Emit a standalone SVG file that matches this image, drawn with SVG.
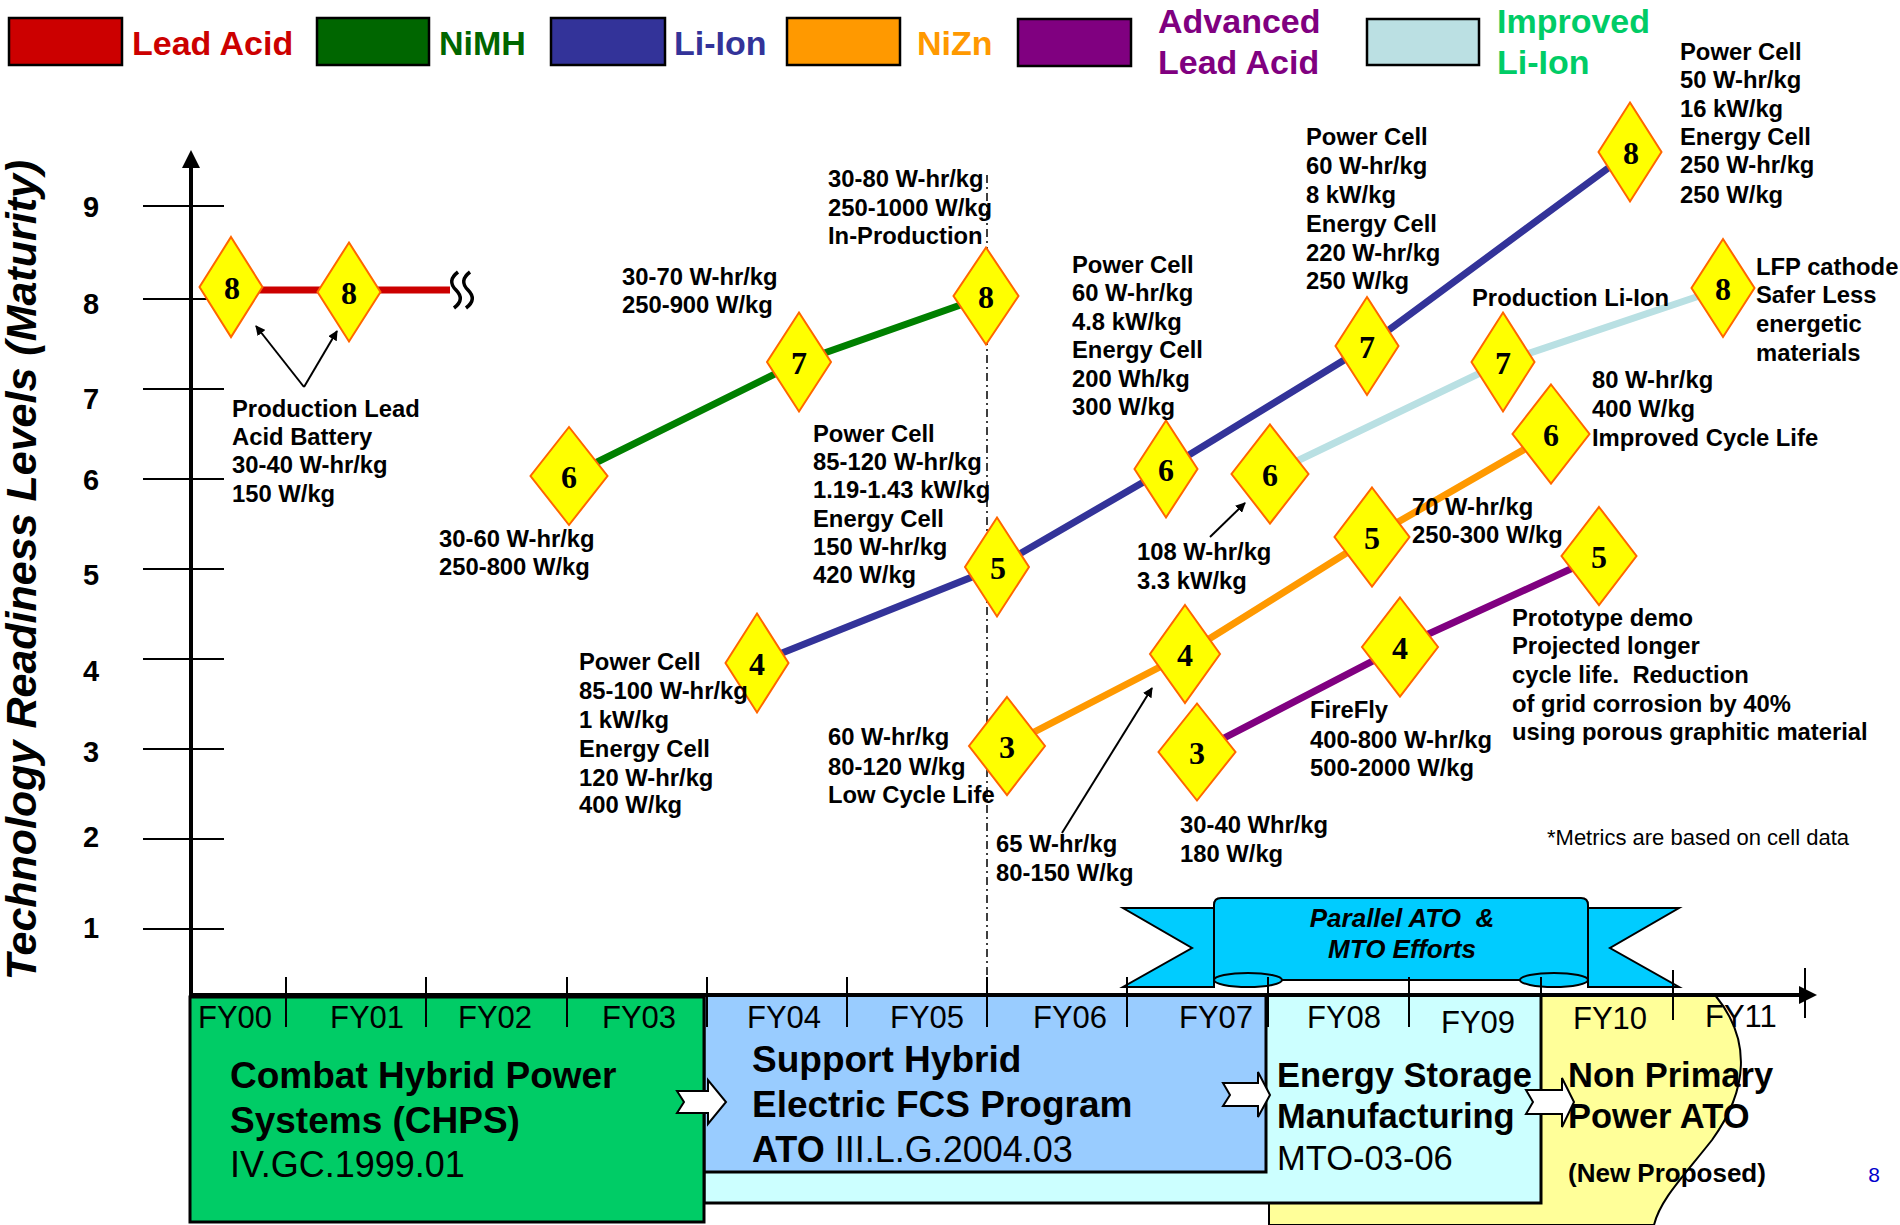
<svg xmlns="http://www.w3.org/2000/svg" width="1900" height="1225" viewBox="0 0 1900 1225">
<style>
text{font-family:"Liberation Sans",Arial,sans-serif}
.lbl{font-weight:bold;font-size:23.8px;fill:#000}
.num{font-family:"Liberation Serif","Times New Roman",serif;font-weight:bold;font-size:32px;text-anchor:middle;fill:#000}
.dia{fill:#ffff00;stroke:#ff6600;stroke-width:2}
.leg{font-weight:bold;font-size:34px}
.sw{stroke:#000;stroke-width:2.5}
.ax{stroke:#000;stroke-width:4;fill:none}
.tk{stroke:#000;stroke-width:2;fill:none}
.fy{font-size:31px;fill:#000}
.big{font-weight:bold;font-size:37px;fill:#000}
.big2{font-weight:bold;font-size:34.5px;fill:#000}
.reg{font-size:36px;fill:#000}
.reg2{font-size:34.5px;fill:#000}
.box{stroke:#000;stroke-width:3}
.barrow{fill:#fff;stroke:#000;stroke-width:2}
.ln{fill:none;stroke-width:7}
.thin{stroke:#000;stroke-width:2;fill:none;marker-end:url(#ah)}
</style>
<defs>
<marker id="ah" markerWidth="10" markerHeight="10" refX="9" refY="5" orient="auto" markerUnits="userSpaceOnUse" viewBox="0 0 10 10">
<path d="M0,0 L10,5 L0,10 Z" fill="#000"/>
</marker>
</defs>
<rect width="1900" height="1225" fill="#fff"/>

<!-- Legend -->
<g id="legend">
<rect class="sw" x="9" y="18" width="113" height="47" fill="#cc0000"/>
<text class="leg" x="132" y="55" fill="#cc0000">Lead Acid</text>
<rect class="sw" x="317" y="18" width="112" height="47" fill="#006600"/>
<text class="leg" x="439" y="55" fill="#006600">NiMH</text>
<rect class="sw" x="551" y="18" width="114" height="47" fill="#333399"/>
<text class="leg" x="674" y="55" fill="#333399">Li-Ion</text>
<rect class="sw" x="787" y="18" width="113" height="47" fill="#ff9900"/>
<text class="leg" x="917" y="55" fill="#ff9900">NiZn</text>
<rect class="sw" x="1018" y="19" width="113" height="47" fill="#800080"/>
<text class="leg" x="1158" y="33" fill="#800080">Advanced</text>
<text class="leg" x="1158" y="74" fill="#800080">Lead Acid</text>
<rect class="sw" x="1367" y="19" width="112" height="46" fill="#bbe0e3"/>
<text class="leg" x="1497" y="33" fill="#00cc66">Improved</text>
<text class="leg" x="1497" y="74" fill="#00cc66">Li-Ion</text>
</g>

<!-- Bottom program boxes -->
<g id="box-nonprimary">
<path d="M1269,995 L1715,995 C1752,1040 1748,1090 1712,1140 C1682,1178 1660,1200 1654,1225 L1269,1225 Z" fill="#ffff99" stroke="#000" stroke-width="2"/>
</g>
<g id="box-energystorage">
<rect class="box" x="704" y="995" width="837" height="208" fill="#ccffff"/>
</g>
<g id="box-support">
<rect class="box" x="704" y="995" width="562" height="177" fill="#99ccff"/>
</g>
<g id="box-chps">
<rect class="box" x="190" y="997" width="514" height="225" fill="#00cc66"/>
</g>

<!-- Banner -->
<g id="banner">
<polygon points="1123,908 1214,908 1214,987 1123,987 1192,948" fill="#00ccff" stroke="#000" stroke-width="2"/>
<polygon points="1679,908 1588,908 1588,987 1679,987 1610,948" fill="#00ccff" stroke="#000" stroke-width="2"/>
<path d="M1214,980 L1214,905 Q1214,898 1221,898 L1581,898 Q1588,898 1588,905 L1588,980 Z" fill="#00ccff" stroke="#000" stroke-width="2"/>
<ellipse cx="1248" cy="980" rx="34" ry="7" fill="#00ccff" stroke="#000" stroke-width="2"/>
<ellipse cx="1554" cy="980" rx="34" ry="7" fill="#00ccff" stroke="#000" stroke-width="2"/>
<text x="1402" y="927" text-anchor="middle" font-weight="bold" font-style="italic" font-size="26" xml:space="preserve">Parallel ATO  &amp;</text>
<text x="1402" y="958" text-anchor="middle" font-weight="bold" font-style="italic" font-size="26">MTO Efforts</text>
</g>

<!-- Axes -->
<g id="axes">
<line class="ax" x1="191" y1="162" x2="191" y2="997"/>
<polygon points="191,150 182,168 200,168" fill="#000"/>
<line class="ax" x1="189" y1="995" x2="1804" y2="995"/>
<polygon points="1817,995 1799,986 1799,1004" fill="#000"/>
<g class="tk">
<line x1="143" y1="206" x2="224" y2="206"/>
<line x1="143" y1="299" x2="224" y2="299"/>
<line x1="143" y1="389" x2="224" y2="389"/>
<line x1="143" y1="479" x2="224" y2="479"/>
<line x1="143" y1="569" x2="224" y2="569"/>
<line x1="143" y1="659" x2="224" y2="659"/>
<line x1="143" y1="749" x2="224" y2="749"/>
<line x1="143" y1="839" x2="224" y2="839"/>
<line x1="143" y1="929" x2="224" y2="929"/>
<line x1="286" y1="977" x2="286" y2="1027"/>
<line x1="426" y1="977" x2="426" y2="1027"/>
<line x1="567" y1="977" x2="567" y2="1027"/>
<line x1="707" y1="977" x2="707" y2="1027"/>
<line x1="847" y1="977" x2="847" y2="1027"/>
<line x1="987" y1="977" x2="987" y2="1027"/>
<line x1="1127" y1="977" x2="1127" y2="1027"/>
<line x1="1268" y1="977" x2="1268" y2="1027"/>
<line x1="1409" y1="977" x2="1409" y2="1027"/>
<line x1="1541" y1="977" x2="1541" y2="1025"/>
<line x1="1673" y1="970" x2="1673" y2="1020"/>
<line x1="1805" y1="968" x2="1805" y2="1018"/>
</g>
<g font-weight="bold" font-size="29" text-anchor="middle">
<text x="91" y="217">9</text>
<text x="91" y="314">8</text>
<text x="91" y="409">7</text>
<text x="91" y="490">6</text>
<text x="91" y="585">5</text>
<text x="91" y="681">4</text>
<text x="91" y="762">3</text>
<text x="91" y="847">2</text>
<text x="91" y="938">1</text>
</g>
<text transform="translate(36,570) rotate(-90)" text-anchor="middle" font-weight="bold" font-style="italic" font-size="43">Technology Readiness Levels (Maturity)</text>
<g class="fy">
<text x="198" y="1028">FY00</text>
<text x="330" y="1028">FY01</text>
<text x="458" y="1028">FY02</text>
<text x="602" y="1028">FY03</text>
<text x="747" y="1028">FY04</text>
<text x="890" y="1028">FY05</text>
<text x="1033" y="1028">FY06</text>
<text x="1179" y="1028">FY07</text>
<text x="1307" y="1028">FY08</text>
<text x="1441" y="1033">FY09</text>
<text x="1573" y="1029">FY10</text>
<text x="1705" y="1027">FY11</text>
</g>
</g>

<!-- Box texts and block arrows -->
<g id="box-texts">
<text class="big" x="230" y="1088">Combat Hybrid Power</text>
<text class="big" x="230" y="1133">Systems (CHPS)</text>
<text class="reg" x="230" y="1177">IV.GC.1999.01</text>
<text class="big" x="752" y="1072">Support Hybrid</text>
<text class="big" x="752" y="1117">Electric FCS Program</text>
<text class="reg" x="752" y="1162"><tspan font-weight="bold">ATO</tspan> III.L.G.2004.03</text>
<text class="big2" x="1277" y="1087">Energy Storage</text>
<text class="big2" x="1277" y="1128">Manufacturing</text>
<text class="reg2" x="1277" y="1170">MTO-03-06</text>
<text class="big2" x="1568" y="1087">Non Primary</text>
<text class="big2" x="1568" y="1128">Power ATO</text>
<text x="1568" y="1182" font-weight="bold" font-size="26">(New Proposed)</text>
<text x="1874" y="1182" text-anchor="middle" font-size="21" fill="#0000cc">8</text>
</g>
<g id="block-arrows">
<polygon class="barrow" points="677,1091 708,1091 708,1080 726,1102 708,1124 708,1113 677,1113 684,1102"/>
<polygon class="barrow" points="1223,1083 1258,1083 1258,1072 1270,1095 1258,1117 1258,1106 1223,1106 1230,1095"/>
<polygon class="barrow" points="1526,1090 1562,1090 1562,1078 1574,1102 1562,1127 1562,1114 1526,1114 1533,1102"/>
</g>

<!-- Connectors -->
<g id="connectors">
<line x1="987" y1="175" x2="987" y2="1000" stroke="#000" stroke-width="1.5" stroke-dasharray="8,4,2,4"/>
<polyline class="ln" stroke="#cc0000" points="231,290 450,290"/>
<path d="M458,272 C450,278 450,284 456,290 C462,296 462,302 454,308 M470,272 C462,278 462,284 468,290 C474,296 474,302 466,308" fill="none" stroke="#000" stroke-width="3.5"/>
<polyline class="ln" stroke="#008000" points="569,476 799,362 986,296"/>
<polyline class="ln" stroke="#333399" points="757,663 997,567 1166,469 1367,346 1630,152"/>
<polyline class="ln" stroke="#b9e0e3" stroke-width="6" points="1270,474 1503,362 1723,288"/>
<polyline class="ln" stroke="#ff9900" points="1007,746 1185,654 1372,537 1551,434"/>
<polyline class="ln" stroke="#800080" points="1197,752 1400,647 1599,556"/>
<line class="thin" x1="304" y1="387" x2="256" y2="326"/>
<line class="thin" x1="304" y1="387" x2="337" y2="331"/>
<line class="thin" x1="1062" y1="833" x2="1152" y2="688"/>
<line class="thin" x1="1210" y1="537" x2="1245" y2="503"/>
</g>

<!-- Nodes -->
<g id="n-lead-1"><polygon class="dia" points="231,237 262.5,287 231,337 199.5,287"/><text class="num" x="232" y="299">8</text></g>
<g id="n-lead-2"><polygon class="dia" points="349,242.5 380.5,292 349,341.5 317.5,292"/><text class="num" x="349" y="304">8</text></g>
<g id="n-nimh-6"><polygon class="dia" points="569,427 607.5,476 569,525 530.5,476"/><text class="num" x="569" y="488">6</text></g>
<g id="n-nimh-7"><polygon class="dia" points="799,312.5 831,362 799,411.5 767,362"/><text class="num" x="799" y="374">7</text></g>
<g id="n-nimh-8"><polygon class="dia" points="986,247.5 1018.5,296 986,344.5 953.5,296"/><text class="num" x="986" y="308">8</text></g>
<g id="n-li-4"><polygon class="dia" points="757,613.5 788.5,663 757,712.5 725.5,663"/><text class="num" x="757" y="675">4</text></g>
<g id="n-li-5"><polygon class="dia" points="997,517.5 1029,567 997,616.5 965,567"/><text class="num" x="998" y="579">5</text></g>
<g id="n-li-6"><polygon class="dia" points="1166,420.5 1197.5,469 1166,517.5 1134.5,469"/><text class="num" x="1166" y="481">6</text></g>
<g id="n-li-7"><polygon class="dia" points="1367,297 1398.5,346 1367,395 1335.5,346"/><text class="num" x="1367" y="358">7</text></g>
<g id="n-li-8"><polygon class="dia" points="1630,102.5 1661.5,152 1630,201.5 1598.5,152"/><text class="num" x="1631" y="164">8</text></g>
<g id="n-ili-6"><polygon class="dia" points="1270,424.5 1308.5,474 1270,523.5 1231.5,474"/><text class="num" x="1270" y="486">6</text></g>
<g id="n-ili-7"><polygon class="dia" points="1503,312.5 1534.5,362 1503,411.5 1471.5,362"/><text class="num" x="1503" y="374">7</text></g>
<g id="n-ili-8"><polygon class="dia" points="1723,239 1754.5,288 1723,337 1691.5,288"/><text class="num" x="1723" y="300">8</text></g>
<g id="n-nizn-3"><polygon class="dia" points="1007,697 1045,746 1007,795 969,746"/><text class="num" x="1007" y="758">3</text></g>
<g id="n-nizn-4"><polygon class="dia" points="1185,605 1220,654 1185,703 1150,654"/><text class="num" x="1185" y="666">4</text></g>
<g id="n-nizn-5"><polygon class="dia" points="1372,487.5 1409.5,537 1372,586.5 1334.5,537"/><text class="num" x="1372" y="549">5</text></g>
<g id="n-nizn-6"><polygon class="dia" points="1551,384.5 1589.5,434 1551,483.5 1512.5,434"/><text class="num" x="1551" y="446">6</text></g>
<g id="n-ala-3"><polygon class="dia" points="1197,703.5 1235.5,752 1197,800.5 1158.5,752"/><text class="num" x="1197" y="764">3</text></g>
<g id="n-ala-4"><polygon class="dia" points="1400,597.5 1438,647 1400,696.5 1362,647"/><text class="num" x="1400" y="659">4</text></g>
<g id="n-ala-5"><polygon class="dia" points="1599,507 1636.5,556 1599,605 1561.5,556"/><text class="num" x="1599" y="568">5</text></g>

<!-- Annotation texts -->
<g id="annotations" class="lbl">
<text x="232" y="417">Production Lead</text>
<text x="232" y="445">Acid Battery</text>
<text x="232" y="473">30-40 W-hr/kg</text>
<text x="232" y="502">150 W/kg</text>

<text x="439" y="547">30-60 W-hr/kg</text>
<text x="439" y="575">250-800 W/kg</text>

<text x="622" y="285">30-70 W-hr/kg</text>
<text x="622" y="313">250-900 W/kg</text>

<text x="828" y="187">30-80 W-hr/kg</text>
<text x="828" y="216">250-1000 W/kg</text>
<text x="828" y="244">In-Production</text>

<text x="813" y="442">Power Cell</text>
<text x="813" y="470">85-120 W-hr/kg</text>
<text x="813" y="498">1.19-1.43 kW/kg</text>
<text x="813" y="527">Energy Cell</text>
<text x="813" y="555">150 W-hr/kg</text>
<text x="813" y="583">420 W/kg</text>

<text x="579" y="670">Power Cell</text>
<text x="579" y="699">85-100 W-hr/kg</text>
<text x="579" y="728">1 kW/kg</text>
<text x="579" y="757">Energy Cell</text>
<text x="579" y="786">120 W-hr/kg</text>
<text x="579" y="813">400 W/kg</text>

<text x="828" y="745">60 W-hr/kg</text>
<text x="828" y="775">80-120 W/kg</text>
<text x="828" y="803">Low Cycle Life</text>

<text x="996" y="852">65 W-hr/kg</text>
<text x="996" y="881">80-150 W/kg</text>

<text x="1137" y="560">108 W-hr/kg</text>
<text x="1137" y="589">3.3 kW/kg</text>

<text x="1180" y="833">30-40 Whr/kg</text>
<text x="1180" y="862">180 W/kg</text>

<text x="1072" y="273">Power Cell</text>
<text x="1072" y="301">60 W-hr/kg</text>
<text x="1072" y="330">4.8 kW/kg</text>
<text x="1072" y="358">Energy Cell</text>
<text x="1072" y="387">200 Wh/kg</text>
<text x="1072" y="415">300 W/kg</text>

<text x="1306" y="145">Power Cell</text>
<text x="1306" y="174">60 W-hr/kg</text>
<text x="1306" y="203">8 kW/kg</text>
<text x="1306" y="232">Energy Cell</text>
<text x="1306" y="261">220 W-hr/kg</text>
<text x="1306" y="289">250 W/kg</text>

<text x="1680" y="60">Power Cell</text>
<text x="1680" y="88">50 W-hr/kg</text>
<text x="1680" y="117">16 kW/kg</text>
<text x="1680" y="145">Energy Cell</text>
<text x="1680" y="173">250 W-hr/kg</text>
<text x="1680" y="203">250 W/kg</text>

<text x="1472" y="306">Production Li-Ion</text>

<text x="1756" y="275">LFP cathode</text>
<text x="1756" y="303">Safer Less</text>
<text x="1756" y="332">energetic</text>
<text x="1756" y="361">materials</text>

<text x="1592" y="388">80 W-hr/kg</text>
<text x="1592" y="417">400 W/kg</text>
<text x="1592" y="446">Improved Cycle Life</text>

<text x="1412" y="515">70 W-hr/kg</text>
<text x="1412" y="543">250-300 W/kg</text>

<text x="1310" y="718">FireFly</text>
<text x="1310" y="748">400-800 W-hr/kg</text>
<text x="1310" y="776">500-2000 W/kg</text>

<text x="1512" y="626">Prototype demo</text>
<text x="1512" y="654">Projected longer</text>
<text x="1512" y="683" xml:space="preserve">cycle life.  Reduction</text>
<text x="1512" y="712">of grid corrosion by 40%</text>
<text x="1512" y="740">using porous graphitic material</text>
</g>
<text x="1547" y="845" font-family="'Liberation Serif','Times New Roman',serif" font-size="22">*Metrics are based on cell data</text>
</svg>
